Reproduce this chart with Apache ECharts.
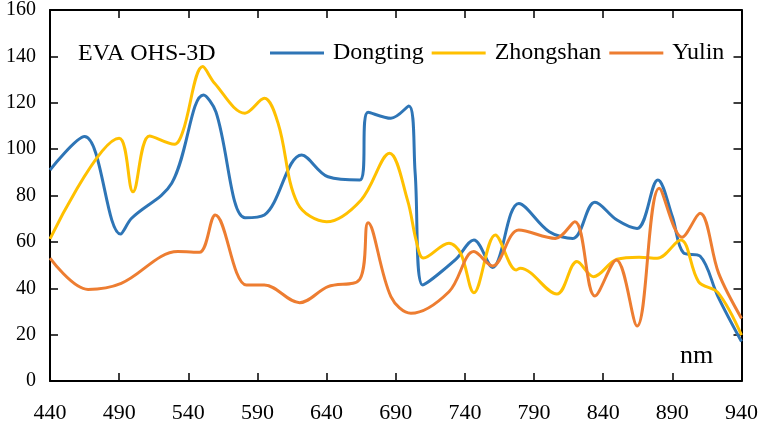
<!DOCTYPE html>
<html>
<head>
<meta charset="utf-8">
<script src="https://cdn.jsdelivr.net/npm/echarts@6/dist/echarts.min.js"></script>
<style>
  html, body { margin: 0; padding: 0; background: #fff; }
  #chart { width: 761px; height: 425px; }
</style>
</head>
<body>
<div id="chart"></div>
<script>
// Wavelength ticks (nm) and value ticks
const xTicks = [440, 490, 540, 590, 640, 690, 740, 790, 840, 890, 940];
const yTicks = [0, 20, 40, 60, 80, 100, 120, 140, 160];

// Dongting spectrum
const dongtingNm  = [440, 465, 491, 499, 528, 551, 560, 581, 595, 622, 641, 664, 670, 686.5, 699.5, 704, 709.5, 733, 746.5, 760, 779, 801, 818, 834, 850, 864.5, 879.5, 890, 898, 910, 923, 940];
const dongtingVal = [91, 105.4, 63.4, 70.2, 85.3, 123.3, 116, 70.4, 71.6, 97.5, 88.1, 86.7, 115.9, 113.3, 118.6, 90, 41.4, 52.2, 60.8, 49, 76.6, 64.4, 61.5, 77.1, 69.4, 65.8, 86.7, 70.9, 55.3, 53.9, 36.4, 17];

// Zhongshan spectrum
const zhongshanNm  = [440, 490, 500, 512, 530, 536, 550.5, 559, 581, 595, 605, 619, 640, 665, 685.5, 698.5, 705, 710, 728.5, 737, 746.5, 762, 777, 780, 806.5, 821, 833, 850, 866, 879, 896, 909, 923, 940];
const zhongshanVal = [61.3, 104.7, 81.6, 105.7, 102.1, 107.5, 135.6, 128.4, 115.5, 121.9, 111, 76.6, 68.7, 78.1, 98.2, 78, 60, 53, 59.4, 55, 38.1, 63, 47.9, 48.6, 37.5, 51.5, 45, 52.5, 53.4, 52.9, 60.8, 42.8, 38.1, 19.8];

// Yulin spectrum
const yulinNm  = [440, 467.5, 491.5, 532.5, 548, 559.5, 582, 595, 620.5, 641, 664, 670, 686.5, 701, 728.5, 746.5, 760, 779, 805.5, 819.5, 834, 849.5, 864.5, 880.5, 897, 910, 923.5, 940];
const yulinVal = [53, 39.5, 42.1, 55.8, 55.5, 71.6, 41.4, 41.4, 33.8, 40.7, 43.9, 68.3, 36.4, 29.2, 38.5, 55.8, 49.6, 65.1, 61.5, 68.7, 36.7, 52.2, 23.7, 83.1, 62, 72.3, 46.4, 27];

const pairs = (xs, ys) => xs.map((x, i) => [x, ys[i]]);

const serif = 'Liberation Serif';
const black = '#000';

const chart = echarts.init(document.getElementById('chart'), null, { renderer: 'canvas' });

const baseX = {
  type: 'value', min: xTicks[0], max: xTicks[xTicks.length - 1], interval: 50,
  splitLine: { show: false },
  axisLine: { show: true, onZero: false, lineStyle: { color: black, width: 2 } },
  axisTick: { show: true, inside: true, length: 8, lineStyle: { color: black, width: 1.5 } }
};
const baseY = {
  type: 'value', min: yTicks[0], max: yTicks[yTicks.length - 1], interval: 20,
  splitLine: { show: false },
  axisLine: { show: true, onZero: false, lineStyle: { color: black, width: 2 } },
  axisTick: { show: true, inside: true, length: 8, lineStyle: { color: black, width: 1.5 } }
};

const lineSeries = (name, xs, ys, color) => ({
  name, type: 'line', xAxisIndex: 0, yAxisIndex: 0,
  data: pairs(xs, ys),
  smooth: 0.35, showSymbol: false, symbol: 'none',
  lineStyle: { color, width: 3 }, itemStyle: { color },
  z: 3
});

chart.setOption({
  animation: false,
  backgroundColor: '#fff',
  grid: { left: 50, right: 18, top: 10, bottom: 44, containLabel: false },
  legend: {
    left: 270, top: 41, padding: 0,
    icon: 'rect',
    itemWidth: 54, itemHeight: 3, itemGap: 8,
    textStyle: { fontFamily: serif, fontSize: 24, color: black, padding: [0, 0, 0, 4] },
    data: ['Dongting', 'Zhongshan', 'Yulin']
  },
  xAxis: [
    Object.assign({}, baseX, {
      position: 'bottom',
      axisLabel: { show: true, fontFamily: serif, fontSize: 22, color: black, margin: 21 }
    }),
    Object.assign({}, baseX, { position: 'top', axisLabel: { show: false } })
  ],
  yAxis: [
    Object.assign({}, baseY, {
      position: 'left',
      axisLabel: { show: true, fontFamily: serif, fontSize: 20, color: black, margin: 14 }
    }),
    Object.assign({}, baseY, { position: 'right', axisLabel: { show: false } })
  ],
  graphic: [
    { type: 'text', left: 78, top: 42, style: { text: 'EVA OHS-3D', font: '24px "Liberation Serif"', fill: black } },
    { type: 'text', left: 680, top: 343, style: { text: 'nm', font: '26px "Liberation Serif"', fill: black } }
  ],
  series: [
    lineSeries('Dongting', dongtingNm, dongtingVal, '#2E75B6'),
    lineSeries('Zhongshan', zhongshanNm, zhongshanVal, '#FFC000'),
    lineSeries('Yulin', yulinNm, yulinVal, '#ED7D31')
  ]
});
</script>
</body>
</html>
